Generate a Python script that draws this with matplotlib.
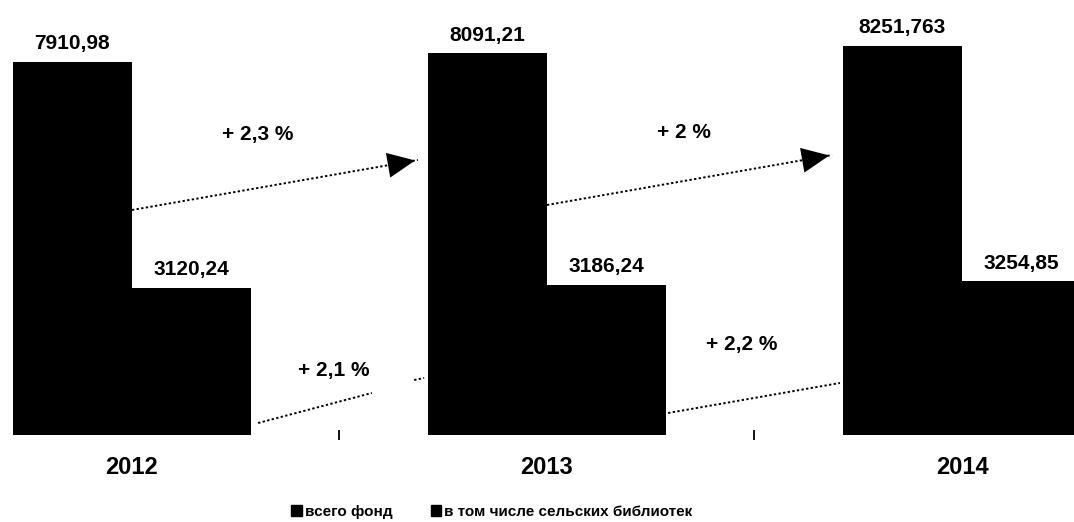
import matplotlib.pyplot as plt
from matplotlib.patches import Patch
import numpy as np

plt.rcParams['font.family'] = ['Liberation Sans', 'DejaVu Sans']

years = ['2012', '2013', '2014']
total_fund = [7910.98, 8091.21, 8251.763]
rural_libs = [3120.24, 3186.24, 3254.85]
total_labels = ['7910,98', '8091,21', '8251,763']
rural_labels = ['3120,24', '3186,24', '3254,85']
series_names = ['всего фонд', 'в том числе сельских библиотек']
growth_total = ['+ 2,3 %', '+ 2 %']
growth_rural = ['+ 2,1 %', '+ 2,2 %']

fig = plt.figure(figsize=(10.74, 5.22), dpi=100)
ax = fig.add_axes([0, 87 / 522, 1, 1 - 87 / 522])

x = np.arange(len(years))
w = 0.287
ax.bar(x - w / 2, total_fund, width=w, color='black')
ax.bar(x + w / 2, rural_libs, width=w, color='black')

for xi, v, lab in zip(x - w / 2, total_fund, total_labels):
    ax.annotate(lab, (xi, v), xytext=(0, 13), textcoords='offset points',
                ha='center', va='center', fontsize=15, fontweight='bold')
for xi, v, lab in zip(x + w / 2, rural_libs, rural_labels):
    ax.annotate(lab, (xi, v), xytext=(0, 13), textcoords='offset points',
                ha='center', va='center', fontsize=15, fontweight='bold')

# стрелки роста (пунктир)
def dotted_arrow(p0, p1, head=True):
    ax.plot([p0[0], p1[0]], [p0[1], p1[1]], color='black', lw=1.4,
            linestyle=(0, (1.2, 1.2)))
    if head:
        dx = p1[0] - p0[0]
        dy = p1[1] - p0[1]
        ax.annotate('', xy=p1, xytext=(p1[0] - dx * 0.02, p1[1] - dy * 0.02),
                    arrowprops=dict(arrowstyle='-|>,head_length=1.1,head_width=0.5',
                                    color='black', lw=0, mutation_scale=18))

dotted_arrow((0.0, 4767), (0.689, 5826))
dotted_arrow((1.0, 4873), (1.687, 5932))
dotted_arrow((0.304, 254), (0.578, 890), head=False)
dotted_arrow((0.68, 1165), (0.704, 1208), head=False)
dotted_arrow((1.292, 466), (1.706, 1102), head=False)

ax.text(0.304, 6356, growth_total[0], ha='center', va='center', fontsize=15, fontweight='bold')
ax.text(1.33, 6419, growth_total[1], ha='center', va='center', fontsize=15, fontweight='bold')
ax.text(0.487, 1377, growth_rural[0], ha='center', va='center', fontsize=15, fontweight='bold')
ax.text(1.47, 1907, growth_rural[1], ha='center', va='center', fontsize=15, fontweight='bold')

ax.set_xlim(-0.318, 2.27)
ax.set_ylim(0, 9216)
for s in ax.spines.values():
    s.set_visible(False)
ax.set_yticks([])
ax.set_xticks(x)
ax.set_xticklabels(years, fontsize=17, fontweight='bold')
ax.tick_params(axis='x', which='major', length=0, pad=15)
ax.set_xticks([0.5, 1.5], minor=True)
ax.tick_params(axis='x', which='minor', length=7, width=1.3, direction='inout')

handles = [Patch(color='black'), Patch(color='black')]
fig.legend(handles, series_names, loc='center', bbox_to_anchor=(0.458, 0.02),
           ncol=2, frameon=False, handlelength=0.7, handleheight=0.7,
           handletextpad=0.2, columnspacing=2.5,
           prop={'size': 11, 'weight': 'bold'})

plt.savefig('out.png', dpi=100)
